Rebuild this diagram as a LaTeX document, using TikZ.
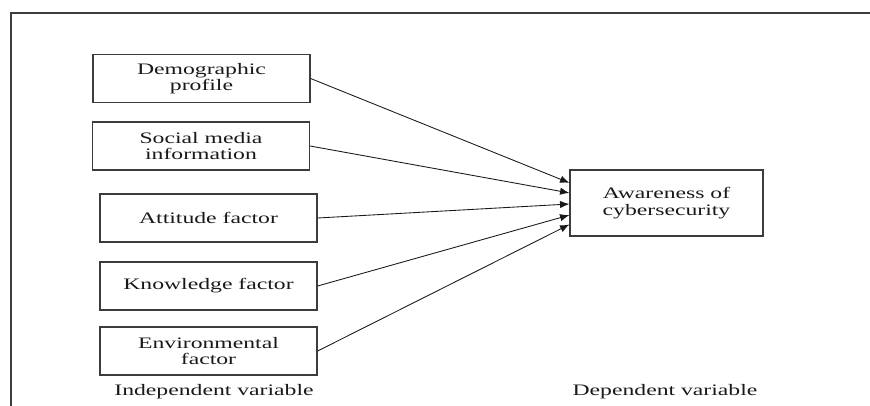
\documentclass[tikz,border=0pt]{standalone}
\usepackage{fontspec}
\setmainfont[FakeStretch=1.48]{Liberation Serif}
\usepackage{tikz}
\usetikzlibrary{arrows.meta,positioning,calc}
\definecolor{myline}{RGB}{60,60,60}
\definecolor{mytext}{RGB}{25,25,25}

\begin{document}
\begin{tikzpicture}[x=0.75pt, y=-0.75pt,
    font=\fontsize{12}{12.5}\selectfont, text=mytext,
    varbox/.style={draw=myline, line width=0.9pt, align=center,
                   minimum width=162.75pt, minimum height=36pt, inner sep=0pt},
    link/.style={-{Latex[length=7pt,width=5.5pt]}, line width=0.65pt, draw=mytext}]
  \useasboundingbox (0,0) rectangle (870,406);
  % frame
  \draw[myline, line width=1pt] (870,13) -- (11,13) -- (11,406);

  % independent variables
  \node[varbox] (demo)   at (201.5, 78.5) {Demographic\\profile};
  \node[varbox] (social) at (201, 146)    {Social media\\information};
  \node[varbox] (att)    at (208.5, 218)  {Attitude factor};
  \node[varbox] (know)   at (208.5, 286)  {Knowledge factor};
  \node[varbox] (env)    at (208.5, 351)  {Environmental\\factor};

  % dependent variable
  \node[varbox, minimum width=144.75pt, minimum height=49.5pt]
    (aware) at (666.5, 203) {Awareness of\\cybersecurity};

  \foreach \src/\f in {demo/0.2, social/0.35, att/0.515, know/0.68, env/0.82}{
    \draw[link] (\src.east) -- ($(aware.north west)!\f!(aware.south west)$);
  }

  \node (indep) at (214, 392) {Independent variable};
  \node (dep)   at (665, 392) {Dependent variable};
\end{tikzpicture}
\end{document}
